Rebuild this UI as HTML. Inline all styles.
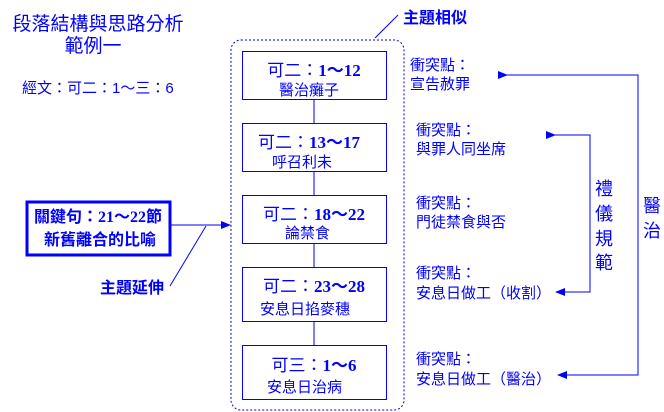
<!DOCTYPE html>
<html><head><meta charset="utf-8"><style>
html,body{margin:0;padding:0;background:#fff;}
svg{display:block;}
text{font-family:"Liberation Serif","Noto Sans CJK TC",serif;fill:#0000ff;}
.s{font-family:"Liberation Sans","Noto Sans CJK TC",sans-serif;}
</style></head><body>
<svg width="664" height="412" viewBox="0 0 664 412" xmlns="http://www.w3.org/2000/svg">
<defs><marker id="a" markerWidth="10" markerHeight="8" refX="9" refY="4" orient="auto" markerUnits="userSpaceOnUse"><path d="M0,0 L10,4 L0,8 z" fill="#0000ff"/></marker></defs>
<text x="98" y="30" font-size="19" text-anchor="middle" class="s">段落結構與思路分析</text>
<text x="93" y="52" font-size="19" text-anchor="middle" class="s">範例一</text>
<text x="22" y="93" font-size="15" class="s">經文：可二：1～三：6</text>
<rect x="231" y="40" width="173" height="370" rx="10" fill="none" stroke="#0000ff" stroke-dasharray="2,2"/>
<line x1="375" y1="38" x2="398" y2="15" stroke="#0000ff"/>
<text x="403" y="23" font-size="16" font-weight="bold" class="s">主題相似</text>
<g stroke="#0000ff" fill="none">
<line x1="314" y1="99" x2="314" y2="345"/>
<rect x="242.5" y="51.5" width="144" height="48" fill="#fff"/>
<rect x="242.5" y="123.5" width="144" height="48" fill="#fff"/>
<rect x="242.5" y="195.5" width="144" height="48" fill="#fff"/>
<rect x="242.5" y="267.5" width="144" height="54" fill="#fff"/>
<rect x="242.5" y="345.5" width="144" height="54" fill="#fff"/>
<rect x="27" y="202" width="143" height="53" stroke-width="3"/>
<line x1="170" y1="225" x2="230" y2="225" marker-end="url(#a)"/>
<line x1="170" y1="286" x2="206" y2="226"/>
<polyline points="507,75 638,75 638,375 558,375" marker-start="url(#a)" marker-end="url(#a)"/>
<polyline points="555,135 590,135 590,292 556,292" marker-start="url(#a)" marker-end="url(#a)"/>
</g>
<g font-size="17" text-anchor="middle">
<text x="314" y="76"><tspan class="s" font-weight="normal">可二：</tspan><tspan font-weight="bold">1～12</tspan></text>
<text x="309" y="148"><tspan class="s">可二：</tspan><tspan font-weight="bold">13～17</tspan></text>
<text x="314" y="220"><tspan class="s">可二：</tspan><tspan font-weight="bold">18～22</tspan></text>
<text x="314" y="292"><tspan class="s">可二：</tspan><tspan font-weight="bold">23～28</tspan></text>
<text x="314" y="371"><tspan class="s">可三：</tspan><tspan font-weight="bold">1～6</tspan></text>
</g>
<g font-size="15">
<text x="279" y="95" class="s">醫治癱子</text>
<text x="272" y="167" class="s">呼召利未</text>
<text x="285" y="238" class="s">論禁食</text>
<text x="260" y="314" class="s">安息日掐麥穗</text>
<text x="267" y="392" class="s">安息日治病</text>
</g>
<g font-size="16" font-weight="bold">
<text x="98" y="222" text-anchor="middle">關鍵句：21～22節</text>
<text x="100" y="245" text-anchor="middle">新舊離合的比喻</text>
</g>
<text x="100" y="293" font-size="16" font-weight="bold" class="s">主題延伸</text>
<g font-size="15">
<text x="410" y="70" class="s">衝突點：</text><text x="410" y="89" class="s">宣告赦罪</text>
<text x="416" y="135" class="s">衝突點：</text><text x="416" y="154" class="s">與罪人同坐席</text>
<text x="416" y="208" class="s">衝突點：</text><text x="416" y="227" class="s">門徒禁食與否</text>
<text x="416" y="278" class="s">衝突點：</text><text x="416" y="298" class="s">安息日做工（收割）</text>
<text x="416" y="364" class="s">衝突點：</text><text x="416" y="384" class="s">安息日做工（醫治）</text>
</g>
<g font-size="18" text-anchor="middle">
<text x="604" y="195" class="s">禮</text><text x="604" y="220" class="s">儀</text>
<text x="604" y="245" class="s">規</text><text x="604" y="269" class="s">範</text>
<text x="652" y="212" class="s">醫</text><text x="652" y="237" class="s">治</text>
</g>
</svg>
</body></html>
